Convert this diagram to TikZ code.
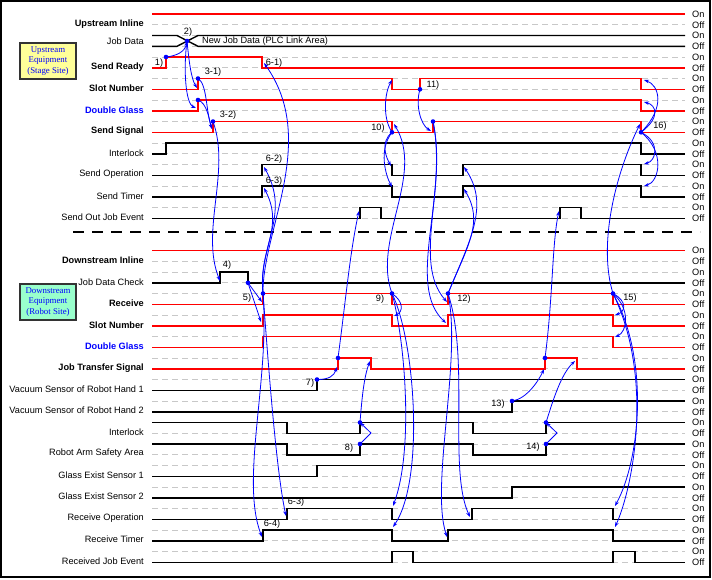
\documentclass[tikz,border=0pt]{standalone}
\usepackage{fontspec}
\setmainfont{Liberation Sans}
\newfontfamily\boxfont{Liberation Serif}
\usetikzlibrary{arrows.meta}
\definecolor{upfill}{HTML}{FFFF99}
\definecolor{dnfill}{HTML}{99FFCC}
\definecolor{gridgray}{HTML}{C8C8C8}

\begin{document}
\begin{tikzpicture}[x=1pt, y=-1pt, line join=miter,
  gridln/.style={draw=gridgray, line width=0.9pt, dash pattern=on 6pt off 4pt},
  sigR/.style={draw=red, line width=1.4pt},
  sigK/.style={draw=black, line width=1.4pt},
  evt/.style={draw=blue, line width=0.8pt, -{Stealth[length=5pt,width=3.6pt]}},
  lbl/.style={anchor=east, inner sep=0pt, font=\fontsize{9.2}{11}\selectfont},
  tag/.style={inner sep=0pt, font=\fontsize{9.2}{11}\selectfont},
  onoff/.style={anchor=west, inner sep=0pt, font=\fontsize{9.2}{11}\selectfont},
  eqbox/.style={draw=black!80, line width=1.2pt, minimum width=56pt, minimum height=36pt,
    inner sep=1pt, align=center, text=blue, font=\boxfont\fontsize{8.8}{10.5}\selectfont}]

  \fill[white] (0,0) rectangle (712,579);
  \draw[line width=1.2pt] (1,1) rectangle (710,577);

  %% ════ grid: On / Off level of every row ════
  \foreach \k in {0,...,9,11,12,...,25} {
    \draw[gridln] (152,{14+21.5*\k}) -- (685,{14+21.5*\k});
    \draw[gridln] (152,{24.8+21.5*\k}) -- (685,{24.8+21.5*\k});
    \node[onoff] (on\k) at (692,{14+21.5*\k}) {On};
    \node[onoff] (off\k) at (692,{24.8+21.5*\k}) {Off};
  }

  % separator between the two equipments
  \draw[line width=1.6pt, dash pattern=on 11pt off 8pt] (73,232) -- (700,232);

  %% ════ equipment boxes ════
  \node[eqbox, fill=upfill] (upeq) at (48,61) {Upstream\\Equipment\\(Stage Site)};
  \node[eqbox, fill=dnfill] (dneq) at (48,302) {Downstream\\Equipment\\(Robot Site)};

  %% ════ row names ════
  \node[lbl] (nUI) at (144,24) {\bfseries Upstream Inline};
  \node[lbl] (nJD) at (144,41) {Job Data};
  \node[lbl] (nSR) at (144,67) {\bfseries Send Ready};
  \node[lbl] (nSN) at (144,88.5) {\bfseries Slot Number};
  \node[lbl, text=blue] (nDG) at (144,110) {\bfseries Double Glass};
  \node[lbl] (nSS) at (144,131.5) {\bfseries Send Signal};
  \node[lbl] (nIL) at (144,153) {Interlock};
  \node[lbl] (nSO) at (144,174.5) {Send Operation};
  \node[lbl] (nST) at (144,196) {Send Timer};
  \node[lbl] (nSJ) at (144,217.5) {Send Out Job Event};
  \node[lbl] (nDI) at (144,260.5) {\bfseries Downstream Inline};
  \node[lbl] (nJC) at (144,282) {Job Data Check};
  \node[lbl] (nRC) at (144,303.5) {\bfseries Receive};
  \node[lbl] (nSD) at (144,325) {\bfseries Slot Number};
  \node[lbl, text=blue] (nDD) at (144,346.5) {\bfseries Double Glass};
  \node[lbl] (nJT) at (144,368) {\bfseries Job Transfer Signal};
  \node[lbl] (nV1) at (144,389) {Vacuum Sensor of Robot Hand 1};
  \node[lbl] (nV2) at (144,410.5) {Vacuum Sensor of Robot Hand 2};
  \node[lbl] (nIK) at (144,432) {Interlock};
  \node[lbl] (nRA) at (144,453.5) {Robot Arm Safety Area};
  \node[lbl] (nG1) at (144,475) {Glass Exist Sensor 1};
  \node[lbl] (nG2) at (144,496.5) {Glass Exist Sensor 2};
  \node[lbl] (nRO) at (144,518) {Receive Operation};
  \node[lbl] (nRT) at (144,539.5) {Receive Timer};
  \node[lbl] (nRJ) at (144,561) {Received Job Event};

  %% ════ upstream waveforms ════
  \draw[sigR] (152,14) -- (685,14);
  \draw[sigK] (152,35.5) -- (177,35.5) -- (198,46.3) -- (685,46.3);
  \draw[sigK] (152,46.3) -- (177,46.3) -- (198,35.5) -- (685,35.5);
  \node[tag, anchor=west] (jdtext) at (202,41) {New Job Data (PLC Link Area)};
  \draw[sigR] (152,67.8) -- (166,67.8) -- (166,57) -- (262,57) -- (262,67.8) -- (685,67.8);
  \draw[sigR] (152,89.3) -- (198,89.3) -- (198,78.5) -- (392,78.5) -- (392,89.3) -- (420,89.3)
              -- (420,78.5) -- (641,78.5) -- (641,89.3) -- (685,89.3);
  \draw[sigR] (152,110.8) -- (198,110.8) -- (198,100) -- (641,100) -- (641,110.8) -- (685,110.8);
  \draw[sigR] (152,132.3) -- (213,132.3) -- (213,121.5) -- (392,121.5) -- (392,132.3) -- (433,132.3)
              -- (433,121.5) -- (641,121.5) -- (641,132.3) -- (685,132.3);
  \draw[sigK] (152,153.8) -- (166,153.8) -- (166,143) -- (641,143) -- (641,153.8) -- (685,153.8);
  \draw[sigK] (152,175.3) -- (262,175.3) -- (262,164.5) -- (392,164.5) -- (392,175.3) -- (463,175.3)
              -- (463,164.5) -- (641,164.5) -- (641,175.3) -- (685,175.3);
  \draw[sigK] (152,196.8) -- (262,196.8) -- (262,186) -- (392,186) -- (392,196.8) -- (463,196.8)
              -- (463,186) -- (641,186) -- (641,196.8) -- (685,196.8);
  \draw[sigK] (152,218.3) -- (360,218.3) -- (360,207.5) -- (381,207.5) -- (381,218.3) -- (560,218.3)
              -- (560,207.5) -- (581,207.5) -- (581,218.3) -- (685,218.3);

  %% ════ downstream waveforms ════
  \draw[sigR] (152,250.5) -- (685,250.5);
  \draw[sigK] (152,282.8) -- (220,282.8) -- (220,272) -- (248,272) -- (248,282.8) -- (685,282.8);
  \draw[sigR] (152,304.3) -- (263,304.3) -- (263,293.5) -- (392,293.5) -- (392,304.3) -- (448,304.3)
              -- (448,293.5) -- (613,293.5) -- (613,304.3) -- (685,304.3);
  \draw[sigR] (152,325.8) -- (263,325.8) -- (263,315) -- (392,315) -- (392,325.8) -- (448,325.8)
              -- (448,315) -- (613,315) -- (613,325.8) -- (685,325.8);
  \draw[sigR] (152,347.3) -- (263,347.3) -- (263,336.5) -- (613,336.5) -- (613,347.3) -- (685,347.3);
  \draw[sigR] (152,368.8) -- (338,368.8) -- (338,358) -- (371,358) -- (371,368.8) -- (545,368.8)
              -- (545,358) -- (577,358) -- (577,368.8) -- (685,368.8);
  \draw[sigK] (152,390.3) -- (317,390.3) -- (317,379.5) -- (685,379.5);
  \draw[sigK] (152,411.8) -- (512,411.8) -- (512,401) -- (685,401);
  \draw[sigK] (152,422.5) -- (287,422.5) -- (287,433.3) -- (360,433.3) -- (360,422.5) -- (473,422.5)
              -- (473,433.3) -- (546,433.3) -- (546,422.5) -- (685,422.5);
  \draw[sigK] (152,444) -- (287,444) -- (287,454.8) -- (360,454.8) -- (360,444) -- (473,444)
              -- (473,454.8) -- (546,454.8) -- (546,444) -- (685,444);
  \draw[sigK] (152,476.3) -- (317,476.3) -- (317,465.5) -- (685,465.5);
  \draw[sigK] (152,497.8) -- (512,497.8) -- (512,487) -- (685,487);
  \draw[sigK] (152,519.3) -- (287,519.3) -- (287,508.5) -- (392,508.5) -- (392,519.3) -- (472,519.3)
              -- (472,508.5) -- (613,508.5) -- (613,519.3) -- (685,519.3);
  \draw[sigK] (152,540.8) -- (263,540.8) -- (263,530) -- (392,530) -- (392,540.8) -- (448,540.8)
              -- (448,530) -- (613,530) -- (613,540.8) -- (685,540.8);
  \draw[sigK] (152,562.3) -- (392,562.3) -- (392,551.5) -- (413,551.5) -- (413,562.3) -- (613,562.3)
              -- (613,551.5) -- (635,551.5) -- (635,562.3) -- (685,562.3);

  %% ════ event points ════
  % upstream
  \coordinate (sr1) at (166,57);     \coordinate (jdx) at (187,41);
  \coordinate (sn1t) at (198,78.5);  \coordinate (sn1b) at (197,88);
  \coordinate (dg1t) at (198,100);   \coordinate (dg1b) at (196,108);
  \coordinate (ss1t) at (213,121.5); \coordinate (ss1b) at (212,129);
  \coordinate (srf) at (264,63);     \coordinate (so1) at (264,167);   \coordinate (st1) at (264,188);
  \coordinate (sj1) at (359,211);    \coordinate (sj2) at (559,211);
  \coordinate (sn2t) at (392,80);    \coordinate (ss2t) at (394,124);  \coordinate (ss2b) at (392,132.3);
  \coordinate (so2) at (391,166);    \coordinate (st2) at (392,187);
  \coordinate (sn3b) at (420,89.3);  \coordinate (ss3b) at (431,131);  \coordinate (ss3t) at (433,121.5);
  \coordinate (so3) at (464,167);    \coordinate (st3) at (464,189);
  \coordinate (ss4t) at (640,124);   \coordinate (ss4b) at (641,132.3);
  \coordinate (sn4) at (644,80);     \coordinate (dg4) at (644,102);
  \coordinate (so4) at (644,164);    \coordinate (st4) at (644,186);
  % downstream
  \coordinate (jc1) at (220,281);    \coordinate (jc2) at (248,282.8);
  \coordinate (rc1t) at (263,293.5); \coordinate (rc1b) at (262,302);  \coordinate (sd1) at (261,322);
  \coordinate (ro1) at (286,516);    \coordinate (rt1) at (262,537);
  \coordinate (vc1) at (317,379.5);  \coordinate (jt1b) at (337,367);  \coordinate (jt1t) at (338,358);
  \coordinate (jt2) at (370,361);
  \coordinate (il1) at (360,422.5);  \coordinate (ra1) at (360,444);
  \coordinate (rc2t) at (392,293.5); \coordinate (sd2) at (394,316);
  \coordinate (ro2) at (393,506);    \coordinate (rt2) at (393,527);
  \coordinate (rc3t) at (448,293.5); \coordinate (rc3b) at (447,302);  \coordinate (sd3) at (446,323);
  \coordinate (ro3) at (470,517);    \coordinate (rt3) at (447,537);
  \coordinate (vc2) at (512,401);    \coordinate (jt3b) at (544,369);  \coordinate (jt3t) at (545,358);
  \coordinate (jt4) at (575,361);
  \coordinate (il2) at (546,422.5);  \coordinate (ra2) at (546,444);
  \coordinate (rc4t) at (613,293.5); \coordinate (sd4) at (615,315);   \coordinate (dd4) at (615,337);
  \coordinate (ro4) at (615,506);    \coordinate (rt4) at (615,527);

  %% ════ handshake arrows ════
  \draw[evt] (sr1) .. controls +(10,-1) and +(-2,11) .. (jdx);
  \draw[evt] (jdx) .. controls +(2,20) and +(-6,-10) .. (sn1b);
  \draw[evt] (jdx) .. controls +(-4,30) and +(-10,-4) .. (dg1b);
  \draw[evt] (sn1t) .. controls +(9,5) and +(-6,-18) .. (ss1b);
  \draw[evt] (dg1t) .. controls +(9,3) and +(-3,-10) .. (ss1b);
  \draw[evt] (ss1t) .. controls +(18,50) and +(-20,-50) .. (jc1);
  \draw[evt] (jc2) -- (rc1b);
  \draw[evt] (jc2) -- (sd1);
  \draw[evt] (rc1t) .. controls +(-1,-63) and +(55,77) .. (srf);
  \draw[evt] (rc1t) .. controls +(-5,-48.5) and +(27,48) .. (so1);
  \draw[evt] (rc1t) .. controls +(-5,-43.5) and +(21,40) .. (st1);
  \draw[evt] (rc1t) .. controls +(5,66.5) and +(-10,-46) .. (ro1);
  \draw[evt] (rc1t) .. controls +(7,86.5) and +(-22,-57) .. (rt1);
  \draw[evt] (vc1) .. controls +(12,0) and +(-3,9) .. (jt1b);
  \draw[evt] (jt1t) .. controls +(8,-60) and +(-9,41) .. (sj1);
  \draw[evt] (il1) .. controls +(2,-25.5) and +(-6,16) .. (jt2);
  \draw[evt] (ra1) -- +(11,-11) -- (il1);
  \draw[evt] (rc2t) .. controls +(-20,-53.5) and +(31,51) .. (ss2t);
  \draw[evt] (rc2t) .. controls +(12,8) and +(9,-4) .. (sd2);
  \draw[evt] (rc2t) .. controls +(13,46.5) and +(21,-56) .. (ro2);
  \draw[evt] (rc2t) .. controls +(23,46.5) and +(32,-47) .. (rt2);
  \draw[evt] (ss2b) .. controls +(-10,-15) and +(-7,12) .. (sn2t);
  \draw[evt] (ss2b) .. controls +(-12,10) and +(-5,-9) .. (so2);
  \draw[evt] (ss2b) .. controls +(-14,18) and +(-6,-11) .. (st2);
  \draw[evt] (sn3b) .. controls +(-5,16) and +(-10,-6) .. (ss3b);
  \draw[evt] (ss3t) .. controls +(14,68.5) and +(-35,-40) .. (rc3b);
  \draw[evt] (ss3t) .. controls +(16,73.5) and +(-41,-38) .. (sd3);
  \draw[evt] (rc3t) .. controls +(22,-53.5) and +(26,38) .. (so3);
  \draw[evt] (rc3t) .. controls +(20,-48.5) and +(20,33) .. (st3);
  \draw[evt] (rc3t) .. controls +(22,66.5) and +(-22,-47) .. (ro3);
  \draw[evt] (rc3t) .. controls +(14,66.5) and +(-17,-52) .. (rt3);
  \draw[evt] (vc2) .. controls +(15,-2) and +(-5,11) .. (jt3b);
  \draw[evt] (jt3t) .. controls +(8,-60) and +(-7,32) .. (sj2);
  \draw[evt] (il2) .. controls +(7,-22) and +(-14,13) .. (jt4);
  \draw[evt] (ra2) -- +(11,-11) -- (il2);
  \draw[evt] (rc4t) .. controls +(15,8) and +(10,-3) .. (sd4);
  \draw[evt] (rc4t) .. controls +(18,16) and +(12,-5) .. (dd4);
  \draw[evt] (rc4t) .. controls +(-15,-48.5) and +(-25,51) .. (ss4t);
  \draw[evt] (rc4t) .. controls +(37,66.5) and +(25,-46) .. (ro4);
  \draw[evt] (rc4t) .. controls +(42,86.5) and +(17,-37) .. (rt4);
  \draw[evt] (ss4b) .. controls +(25,-25) and +(15,5) .. (sn4);
  \draw[evt] (ss4b) .. controls +(20,-15) and +(12,3) .. (dg4);
  \draw[evt] (ss4b) .. controls +(20,10) and +(12,-3) .. (so4);
  \draw[evt] (ss4b) .. controls +(25,20) and +(15,-4) .. (st4);

  % source dots
  \foreach \p in {sr1,jdx,sn1t,dg1t,ss1t,ss2b,sn3b,ss3t,ss4b,jc2,rc1t,vc1,jt1t,il1,ra1,
                  rc2t,rc3t,vc2,jt3t,il2,ra2,rc4t}
    \fill[blue] (\p) circle[radius=2.3pt];

  %% ════ step numbers ════
  \node[tag] (t1) at (159,63) {1)};
  \node[tag] (t2) at (188,32) {2)};
  \node[tag] (t31) at (213,72) {3-1)};
  \node[tag] (t32) at (228,115) {3-2)};
  \node[tag] (t61) at (274,63) {6-1)};
  \node[tag] (t62) at (274,159) {6-2)};
  \node[tag] (t63) at (274,181) {6-3)};
  \node[tag] (t10) at (378,128) {10)};
  \node[tag] (t11) at (433,85) {11)};
  \node[tag] (t16) at (660,126) {16)};
  \node[tag] (t4) at (227,265) {4)};
  \node[tag] (t5) at (247,298) {5)};
  \node[tag] (t7) at (310,383) {7)};
  \node[tag] (t8) at (349,448) {8)};
  \node[tag] (t9) at (380,299) {9)};
  \node[tag] (t12) at (464,299) {12)};
  \node[tag] (t13) at (498,404) {13)};
  \node[tag] (t14) at (533,447) {14)};
  \node[tag] (t15) at (630,298) {15)};
  \node[tag] (t63d) at (296,502) {6-3)};
  \node[tag] (t64d) at (272,524) {6-4)};

  \pgfresetboundingbox
  \path[use as bounding box] (0,0) rectangle (712,579);
\end{tikzpicture}
\end{document}
